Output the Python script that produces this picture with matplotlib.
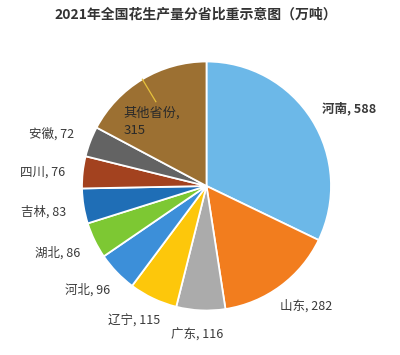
import matplotlib
matplotlib.use("Agg")
import matplotlib.pyplot as plt
import numpy as np

plt.rcParams['font.family'] = ['Noto Sans CJK SC', 'DejaVu Sans']

provinces = ['河南', '山东', '广东', '辽宁', '河北', '湖北', '吉林', '四川', '安徽', '其他省份']
values = [588, 282, 116, 115, 96, 86, 83, 76, 72, 315]
colors = ['#6CB8E8', '#F27D1E', '#ABABAB', '#FDC70B', '#3C8FD9',
          '#7DC833', '#1F6EB6', '#A3421F', '#636363', '#9C7032']
title = '2021年全国花生产量分省比重示意图（万吨）'

W, H = 400, 355
fig = plt.figure(figsize=(W / 100, H / 100), dpi=100)
ax = fig.add_axes([0, 0, 1, 1])
ax.set_xlim(0, W)
ax.set_ylim(0, H)
ax.axis('off')

cx, cy, R = 206.5, H - 186, 124.5
wedges, _ = ax.pie(values, startangle=90, counterclock=False, center=(cx, cy),
                   radius=R, colors=colors, frame=True,
                   wedgeprops=dict(edgecolor='white', linewidth=1.3))
ax.set_xlim(0, W)
ax.set_ylim(0, H)
ax.axis('off')

# label layout: (x, y in pixels from top, horizontal alignment)
layout = {
    '河南': (322, 109, 'left'),
    '山东': (280, 306, 'left'),
    '广东': (171, 335, 'left'),
    '辽宁': (160, 321, 'right'),
    '河北': (110, 290, 'right'),
    '湖北': (80, 253, 'right'),
    '吉林': (66, 212, 'right'),
    '四川': (65, 172, 'right'),
    '安徽': (74, 134, 'right'),
}
tc = '#3A3A3A'
for name, val in zip(provinces, values):
    if name in layout:
        x, y, ha = layout[name]
        ax.text(x, H - y, f'{name}, {val}', ha=ha, va='center', fontsize=9,
                color=tc, fontweight='bold' if name == '河南' else 'normal')

# label inside "其他省份" wedge with leader line
w = wedges[-1]
mid = np.deg2rad((w.theta1 + w.theta2) / 2)
ax.plot([cx + R * np.cos(mid), cx + 0.79 * R * np.cos(mid)],
        [cy + R * np.sin(mid), cy + 0.79 * R * np.sin(mid)],
        color='#E6C23C', lw=0.9)
ax.text(123, H - 113, f'{provinces[-1]},', ha='left', va='center', fontsize=9.5, color='#2A2A2A')
ax.text(124, H - 131, f'{values[-1]}', ha='left', va='center', fontsize=9.5, color='#2A2A2A')

ax.text(196, H - 15, title, ha='center', va='center', fontsize=10,
        fontweight='bold', color='#333333')

fig.savefig('out.png', dpi=100, facecolor='white')
